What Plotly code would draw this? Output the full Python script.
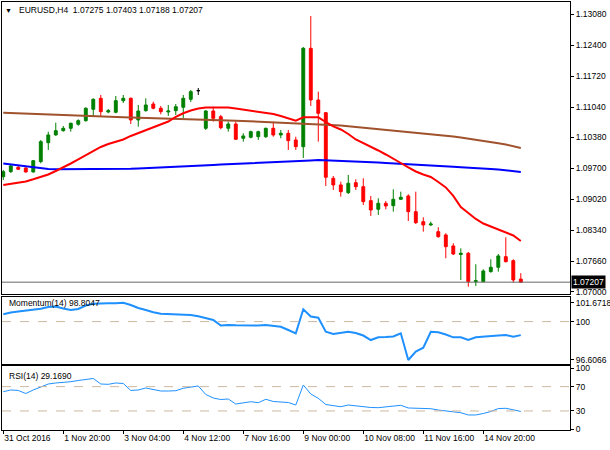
import plotly.graph_objects as go
from plotly.subplots import make_subplots

# EURUSD H4 candles, 31 Oct - 15 Nov 2016
opens = [1.09517, 1.09627, 1.09723, 1.09708, 1.09620, 1.09846, 1.10262, 1.10431, 1.10525, 1.10577,
         1.10665, 1.10744, 1.10993, 1.11234, 1.10934, 1.10928, 1.11182, 1.11234, 1.10759, 1.10963,
         1.11109, 1.11015, 1.10934, 1.10963, 1.11037, 1.11212, 1.11401, 1.10577, 1.10956, 1.10831,
         1.10577, 1.10671, 1.10358, 1.10380, 1.10393, 1.10393, 1.10577, 1.10431, 1.10468, 1.10321,
         1.10174, 1.12329, 1.11197, 1.10919, 1.09482, 1.09336, 1.09167, 1.09386, 1.09298, 1.08992,
         1.08803, 1.08935, 1.08882, 1.09022, 1.09095, 1.08751, 1.08532, 1.08460, 1.08313, 1.08241,
         1.08000, 1.07813, 1.07840, 1.07218, 1.07218, 1.07437, 1.07533, 1.07765, 1.07678, 1.07275]
highs = [1.09664, 1.09774, 1.09774, 1.09723, 1.09883, 1.10321, 1.10503, 1.10700, 1.10628, 1.10700,
         1.10774, 1.11037, 1.11234, 1.11307, 1.11000, 1.11285, 1.11307, 1.11252, 1.11088, 1.11234,
         1.11160, 1.11066, 1.11088, 1.11109, 1.11307, 1.11416, 1.11460, 1.10978, 1.11050, 1.10869,
         1.10722, 1.10722, 1.10468, 1.10525, 1.10525, 1.10590, 1.10722, 1.10540, 1.10540, 1.10393,
         1.12358, 1.13037, 1.11379, 1.10934, 1.09533, 1.09408, 1.09555, 1.09460, 1.09482, 1.09095,
         1.09044, 1.08985, 1.09241, 1.09189, 1.09132, 1.09189, 1.08628, 1.08532, 1.08409, 1.08278,
         1.08059, 1.07949, 1.07868, 1.07599, 1.07489, 1.07708, 1.07824, 1.08190, 1.07708, 1.07403]
lows = [1.09445, 1.09598, 1.09664, 1.09605, 1.09605, 1.09811, 1.10102, 1.10415, 1.10503, 1.10503,
        1.10634, 1.10722, 1.10831, 1.10847, 1.10906, 1.10906, 1.11131, 1.10671, 1.10612, 1.10941,
        1.10993, 1.10884, 1.10847, 1.10869, 1.10803, 1.11153, 1.11307, 1.10540, 1.10722, 1.10555,
        1.10503, 1.10321, 1.10284, 1.10358, 1.10321, 1.10365, 1.10393, 1.10358, 1.10102, 1.10102,
        1.09927, 1.11066, 1.10284, 1.09314, 1.09226, 1.09079, 1.09138, 1.09226, 1.08898, 1.08657,
        1.08679, 1.08803, 1.08751, 1.09007, 1.08547, 1.08481, 1.08313, 1.08438, 1.08181, 1.07730,
        1.07803, 1.07255, 1.07108, 1.07124, 1.07211, 1.07415, 1.07437, 1.07638, 1.07196, 1.07188]
closes = [1.09627, 1.09752, 1.09679, 1.09620, 1.09868, 1.10284, 1.10431, 1.10525, 1.10577, 1.10687,
          1.10744, 1.11015, 1.11212, 1.10941, 1.10963, 1.11182, 1.11234, 1.10759, 1.10956, 1.11088,
          1.11015, 1.10941, 1.10956, 1.11050, 1.11234, 1.11379, 1.11401, 1.10956, 1.10796, 1.10590,
          1.10671, 1.10336, 1.10409, 1.10503, 1.10503, 1.10577, 1.10431, 1.10468, 1.10306, 1.10174,
          1.12329, 1.11197, 1.10906, 1.09504, 1.09336, 1.09189, 1.09373, 1.09298, 1.08970, 1.08788,
          1.08935, 1.08876, 1.09022, 1.09066, 1.08751, 1.08510, 1.08460, 1.08481, 1.08203, 1.07984,
          1.07824, 1.07840, 1.07218, 1.07240, 1.07452, 1.07533, 1.07781, 1.07656, 1.07255, 1.07207]

# moving averages (red = fast, sienna = slow, blue = medium)
ma_red = [1.09336, 1.09357, 1.09379, 1.09412, 1.09460, 1.09511, 1.09565, 1.09642, 1.09719, 1.09806,
          1.09894, 1.09982, 1.10080, 1.10168, 1.10233, 1.10277, 1.10332, 1.10409, 1.10474, 1.10540,
          1.10595, 1.10660, 1.10726, 1.10825, 1.10906, 1.10967, 1.11011, 1.11033, 1.11037, 1.11037,
          1.11033, 1.11011, 1.10989, 1.10963, 1.10945, 1.10923, 1.10890, 1.10847, 1.10792, 1.10744,
          1.10818, 1.10825, 1.10818, 1.10715, 1.10617, 1.10551, 1.10452, 1.10332, 1.10255, 1.10179,
          1.10091, 1.10003, 1.09916, 1.09817, 1.09719, 1.09631, 1.09565, 1.09511, 1.09401, 1.09281,
          1.09095, 1.08854, 1.08722, 1.08591, 1.08492, 1.08427, 1.08361, 1.08295, 1.08230, 1.08109]
ma_brown = [1.10919, 1.10912, 1.10906, 1.10899, 1.10890, 1.10884, 1.10875, 1.10869, 1.10862, 1.10855,
            1.10849, 1.10844, 1.10840, 1.10833, 1.10829, 1.10825, 1.10820, 1.10816, 1.10812, 1.10807,
            1.10803, 1.10798, 1.10794, 1.10790, 1.10785, 1.10781, 1.10776, 1.10770, 1.10763, 1.10757,
            1.10750, 1.10744, 1.10737, 1.10733, 1.10726, 1.10720, 1.10713, 1.10706, 1.10700, 1.10693,
            1.10687, 1.10680, 1.10671, 1.10660, 1.10650, 1.10636, 1.10621, 1.10606, 1.10590, 1.10575,
            1.10560, 1.10544, 1.10529, 1.10514, 1.10498, 1.10483, 1.10468, 1.10452, 1.10435, 1.10417,
            1.10396, 1.10374, 1.10352, 1.10330, 1.10306, 1.10279, 1.10251, 1.10220, 1.10185, 1.10146]
ma_blue = [1.09806, 1.09784, 1.09763, 1.09741, 1.09723, 1.09701, 1.09686, 1.09679, 1.09679, 1.09679,
           1.09679, 1.09679, 1.09679, 1.09679, 1.09679, 1.09682, 1.09686, 1.09690, 1.09697, 1.09703,
           1.09710, 1.09719, 1.09725, 1.09732, 1.09741, 1.09747, 1.09756, 1.09765, 1.09774, 1.09782,
           1.09791, 1.09798, 1.09806, 1.09815, 1.09824, 1.09830, 1.09837, 1.09844, 1.09850, 1.09857,
           1.09866, 1.09874, 1.09881, 1.09876, 1.09870, 1.09866, 1.09861, 1.09855, 1.09848, 1.09839,
           1.09828, 1.09817, 1.09806, 1.09795, 1.09784, 1.09774, 1.09763, 1.09752, 1.09745, 1.09738,
           1.09732, 1.09725, 1.09719, 1.09708, 1.09697, 1.09686, 1.09673, 1.09657, 1.09642, 1.09620]

momentum = [100.645, 100.805, 100.893, 100.955, 101.043, 101.132, 101.291, 101.336, 101.159, 101.026,
            101.114, 101.424, 101.574, 101.619, 101.619, 101.619, 101.6718, 101.468, 101.203, 101.026,
            100.822, 100.689, 100.672, 100.645, 100.628, 100.583, 100.468, 100.318, 100.141, 99.654,
            99.698, 99.672, 99.654, 99.610, 99.654, 99.698, 99.654, 99.548, 99.256, 98.964,
            101.088, 100.451, 100.344, 99.105, 98.902, 98.990, 99.105, 98.990, 98.769, 98.371,
            98.610, 98.636, 98.681, 98.964, 96.6066, 97.353, 97.689, 99.105, 99.052, 98.858,
            98.610, 98.610, 98.371, 98.610, 98.681, 98.725, 98.769, 98.810, 98.663, 98.8047]
rsi = [61.7, 64.5, 63.7, 58.7, 64.5, 69.4, 74.3, 76.0, 76.8, 78.1,
       80.1, 81.7, 83.4, 74.3, 73.8, 76.0, 75.2, 63.7, 64.5, 67.8,
       65.3, 62.8, 62.8, 63.3, 67.3, 69.4, 71.1, 57.1, 51.3, 48.8,
       49.7, 41.4, 43.9, 45.2, 43.6, 49.2, 45.6, 45.2, 43.9, 39.8,
       72.7, 57.9, 50.8, 40.6, 39.0, 37.0, 39.8, 38.2, 37.0, 35.7,
       35.4, 36.5, 37.0, 39.3, 34.9, 34.4, 34.0, 33.7, 31.6, 29.9,
       27.8, 27.1, 23.4, 23.4, 25.8, 29.1, 34.0, 34.4, 31.9, 29.169]

tick_pos = [0, 8, 16, 24, 32, 40, 48, 56, 64]
tick_labels = ["31 Oct 2016", "1 Nov 20:00", "3 Nov 04:00", "4 Nov 12:00", "7 Nov 16:00",
               "9 Nov 00:00", "10 Nov 08:00", "11 Nov 16:00", "14 Nov 20:00"]
price_ticks = [1.07000, 1.07660, 1.08340, 1.09020, 1.09700, 1.10380, 1.11040, 1.11720, 1.12400, 1.13080]
mom_ticks = [96.6066, 100, 101.6718]
rsi_ticks = [0, 30, 70, 100]

bars = list(range(len(opens)))
FONT = "Liberation Sans"

fig = make_subplots(rows=3, cols=1, shared_xaxes=True, vertical_spacing=0.01)

# regular candles, then the doji (open == close) drawn in black like MT4
reg = [i for i in bars if opens[i] != closes[i]]
doji = [i for i in bars if opens[i] == closes[i]]
fig.add_trace(go.Candlestick(x=reg, open=[opens[i] for i in reg], high=[highs[i] for i in reg],
                             low=[lows[i] for i in reg], close=[closes[i] for i in reg],
                             increasing=dict(line=dict(color="#008000", width=1), fillcolor="#008000"),
                             decreasing=dict(line=dict(color="#ff0000", width=1), fillcolor="#ff0000"),
                             whiskerwidth=0, hoverinfo="skip"), 1, 1)
fig.add_trace(go.Candlestick(x=doji, open=[opens[i] for i in doji], high=[highs[i] for i in doji],
                             low=[lows[i] for i in doji], close=[closes[i] for i in doji],
                             increasing=dict(line=dict(color="black", width=1), fillcolor="black"),
                             decreasing=dict(line=dict(color="black", width=1), fillcolor="black"),
                             whiskerwidth=0, hoverinfo="skip"), 1, 1)

fig.add_trace(go.Scatter(x=bars, y=ma_brown, mode="lines", line=dict(color="#a0522d", width=2)), 1, 1)
fig.add_trace(go.Scatter(x=bars, y=ma_blue, mode="lines", line=dict(color="#0000ff", width=2)), 1, 1)
fig.add_trace(go.Scatter(x=bars, y=ma_red, mode="lines", line=dict(color="#ff0000", width=2)), 1, 1)

fig.add_trace(go.Scatter(x=bars, y=momentum, mode="lines", line=dict(color="#1e90ff", width=2)), 2, 1)
fig.add_trace(go.Scatter(x=bars, y=rsi, mode="lines", line=dict(color="#1e90ff", width=1)), 3, 1)

# level lines
fig.add_hline(y=closes[-1], line=dict(color="#666666", width=1), row=1, col=1)
fig.add_hline(y=100, line=dict(color="#cdb8a0", width=1, dash="dash"), row=2, col=1)
for lvl in (30, 70):
    fig.add_hline(y=lvl, line=dict(color="#cdb8a0", width=1, dash="dash"), row=3, col=1)

fig.update_layout(
    width=610, height=450,
    margin=dict(l=2, r=40, t=2, b=20),
    plot_bgcolor="white", paper_bgcolor="white",
    showlegend=False, boxgap=0.45,
    font=dict(family=FONT, size=8.5, color="black"),
    annotations=[
        dict(text="▼", x=0.012, y=0.981, xref="paper", yref="paper", showarrow=False,
             font=dict(size=7), xanchor="center", yanchor="middle"),
        dict(text=f"EURUSD,H4  {opens[-1]:.5f} {highs[-1]:.5f} {lows[-1]:.5f} {closes[-1]:.5f}",
             x=0.026, y=0.981, xref="paper", yref="paper", showarrow=False,
             xanchor="left", yanchor="middle"),
        dict(text=f"Momentum(14) {momentum[-1]:.4f}", x=0.009, y=0.297, xref="paper", yref="paper",
             showarrow=False, xanchor="left", yanchor="middle"),
        dict(text=f"RSI(14) {rsi[-1]:.4f}", x=0.009, y=0.126, xref="paper", yref="paper",
             showarrow=False, xanchor="left", yanchor="middle"),
        dict(text=f"{closes[-1]:.5f}", x=1, y=closes[-1], xref="paper", yref="y", showarrow=False,
             xanchor="left", yanchor="middle", xshift=1, bgcolor="black", borderpad=1,
             font=dict(color="white", size=8.5)),
    ],
)

axis_style = dict(showline=True, mirror=True, linecolor="black", linewidth=1,
                  showgrid=False, zeroline=False, automargin=False)
for r in (1, 2, 3):
    fig.update_xaxes(range=[-0.17, 75.56], rangeslider_visible=False, **axis_style, row=r, col=1)
fig.update_xaxes(tickmode="array", tickvals=tick_pos, ticktext=tick_labels, ticks="outside",
                 ticklen=3, tickcolor="black", ticklabelposition="outside right", tickangle=0,
                 row=3, col=1)

ystyle = dict(side="right", ticks="outside", ticklen=3, tickcolor="black", **axis_style)
fig.update_yaxes(domain=[0.3178, 1.0], range=[1.06948, 1.13343], tickvals=price_ticks,
                 tickformat=".5f", **ystyle, row=1, col=1)
fig.update_yaxes(domain=[0.1542, 0.3119], range=[96.25, 102.22], tickvals=mom_ticks,
                 ticktext=["96.6066", "100", "101.6718"], **ystyle, row=2, col=1)
fig.update_yaxes(domain=[0.0, 0.1495], range=[-1.3, 103.9], tickvals=rsi_ticks, **ystyle, row=3, col=1)

# drop the browser's default body margin so the figure sits at the page origin
fig.write_html("out.html", config={"displayModeBar": False},
               post_script="document.body.style.margin='0';")
